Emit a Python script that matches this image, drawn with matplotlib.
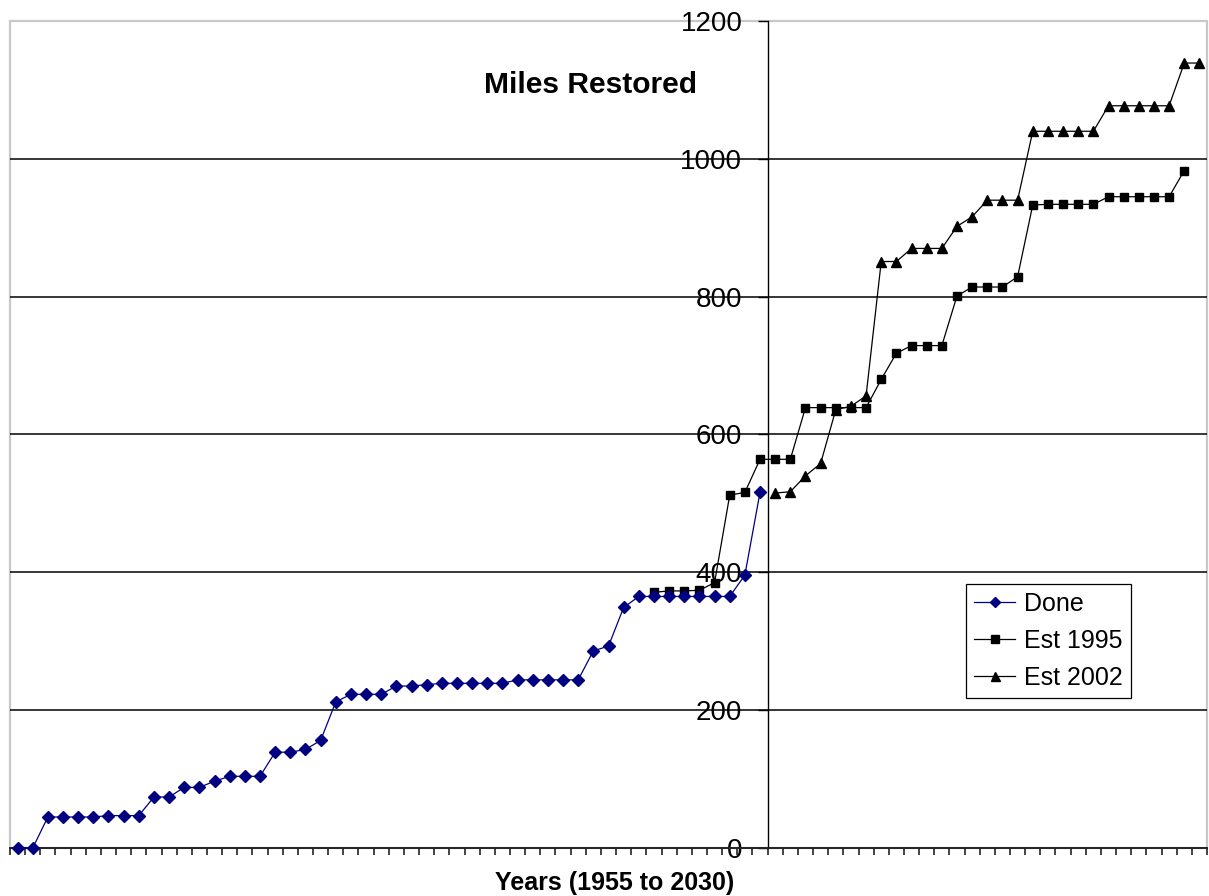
import matplotlib
matplotlib.use("Agg")
import matplotlib.pyplot as plt
from matplotlib.patches import Rectangle
import numpy as np

plt.rcParams['font.family'] = ['Liberation Sans', 'DejaVu Sans']

# ---- data (miles restored, by year) ----
done_start = 1955
done_vals = [0, 0, 45, 45, 45, 45, 47, 47, 47, 74, 74, 88, 88, 97, 104, 104, 104,
             139, 139, 143, 156, 212, 223, 223, 223, 235, 235, 237, 239, 239, 239,
             239, 239, 244, 244, 244, 244, 244, 286, 293, 349, 365, 365, 365, 365,
             365, 365, 365, 396, 516]
est1995_start = 1997
est1995_vals = [371, 373, 373, 374, 385, 512, 516, 564, 564, 564, 639, 639, 639, 639,
                639, 680, 718, 729, 729, 729, 801, 814, 814, 814, 829, 933, 934, 934,
                934, 934, 945, 945, 945, 945, 945, 983]
est2002_start = 2005
est2002_vals = [515, 517, 540, 558, 636, 641, 656, 851, 851, 870, 870, 870, 902, 916,
                940, 940, 940, 1040, 1040, 1040, 1040, 1040, 1077, 1077, 1077, 1077,
                1077, 1139, 1139]
first_year, last_year = 1955, 2033
axis_cross_year = 2004.5
yticks = [0, 200, 400, 600, 800, 1000, 1200]
series_names = ["Done", "Est 1995", "Est 2002"]

W, H = 1209, 896
fig = plt.figure(figsize=(W / 100, H / 100), dpi=100)
ax = fig.add_axes([10 / W, (H - 848) / H, (1207 - 10) / W, (848 - 21) / H])

def years(start, vals):
    return np.arange(start, start + len(vals))

ax.plot(years(done_start, done_vals), done_vals, color='#000080', lw=0.9,
        marker='D', markersize=5.8, mfc='#000080', mec='#000080',
        clip_on=False, zorder=5, label=series_names[0])
ax.plot(years(est1995_start, est1995_vals), est1995_vals, color='black', lw=0.9,
        marker='s', markersize=6.3, mfc='black', mec='black',
        clip_on=False, zorder=4, label=series_names[1])
ax.plot(years(est2002_start, est2002_vals), est2002_vals, color='black', lw=0.9,
        marker='^', markersize=7.2, mfc='black', mec='black',
        clip_on=False, zorder=4, label=series_names[2])

ax.set_xlim(first_year - 0.5, last_year + 0.5)
ax.set_ylim(yticks[0], yticks[-1])

# gridlines (interior only)
ax.hlines(yticks[1:-1], first_year - 0.5, last_year + 0.5, colors='black',
          lw=1.1, zorder=1)

# plot-area gray frame
ax.add_patch(Rectangle((0, 0), 1, 1, transform=ax.transAxes, fill=False,
                       edgecolor='#c8c8c8', lw=1.6, clip_on=False, zorder=0.5))

for s in ['top', 'right']:
    ax.spines[s].set_visible(False)
ax.spines['left'].set_position(('data', axis_cross_year))
ax.spines['left'].set_color('black')
ax.spines['left'].set_linewidth(1.0)
ax.spines['bottom'].set_color('#222222')
ax.spines['bottom'].set_linewidth(1.4)
ax.spines['bottom'].set_zorder(3)

ax.set_yticks(yticks)
ax.set_yticklabels([str(v) for v in yticks], fontsize=20)
ax.tick_params(axis='y', direction='out', length=7.2, width=1.0, pad=11,
               color='black')
ax.set_xticks(np.arange(first_year - 0.5, last_year + 1.0, 1.0))
ax.set_xticklabels([])
ax.tick_params(axis='x', direction='out', length=4.8, width=1.2, color='#222222')

fig.text(590 / W, 1 - 85 / H, "Miles Restored", fontsize=21.6, fontweight='bold',
         ha='center', va='center')
fig.text(615 / W, 1 - 883 / H, "Years (1955 to 2030)", fontsize=18,
         fontweight='bold', ha='center', va='center')

leg = ax.legend(loc='upper left', bbox_to_anchor=(966 / W, 1 - 584 / H),
                bbox_transform=fig.transFigure, fontsize=18, frameon=True,
                fancybox=False, framealpha=1, edgecolor='black',
                handlelength=1.65, handletextpad=0.35, labelspacing=0.52,
                borderpad=0.32, borderaxespad=0)
leg.get_frame().set_linewidth(0.9)
for h in leg.legend_handles:
    h.set_markersize(h.get_markersize() * 0.9)

fig.savefig("out.png", dpi=100)
